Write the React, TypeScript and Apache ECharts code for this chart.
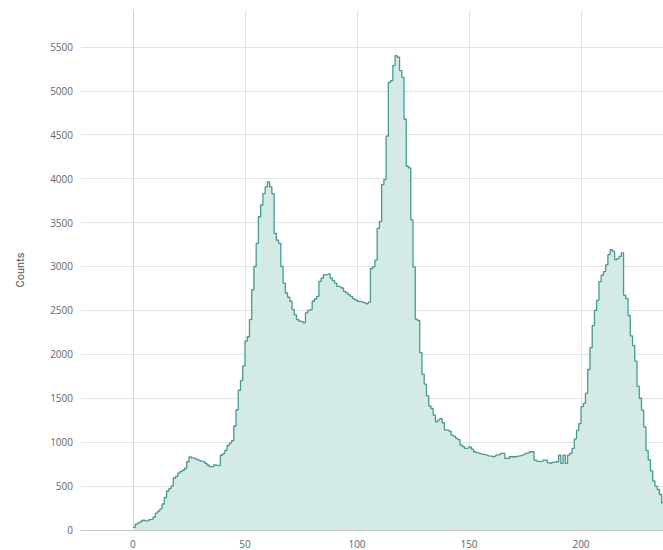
import React, { useEffect, useRef } from "react";
import * as echarts from "echarts";

// Histogram: one bin per intensity value (left edge), counts
const binStarts: number[] = Array.from({ length: 241 }, (_, i) => i);
const counts: number[] = [
  30, 67, 80, 92, 111, 105, 100, 118, 125, 148,
  192, 215, 240, 296, 370, 444, 470, 500, 592, 610,
  648, 666, 680, 703, 777, 833, 820, 814, 805, 796,
  785, 777, 760, 740, 722, 722, 740, 736, 733, 851,
  870, 907, 962, 990, 1018, 1184, 1369, 1591, 1700, 1868,
  2150, 2200, 2396, 2735, 3000, 3264, 3566, 3700, 3830, 3906,
  3962, 3906, 3830, 3377, 3300, 3264, 3000, 2811, 2698, 2650,
  2604, 2510, 2450, 2396, 2377, 2370, 2358, 2471, 2500, 2510,
  2604, 2630, 2660, 2830, 2868, 2905, 2910, 2917, 2868, 2840,
  2811, 2773, 2765, 2755, 2717, 2700, 2680, 2660, 2634, 2620,
  2604, 2600, 2595, 2585, 2576, 2595, 2977, 2996, 3072, 3435,
  3511, 3931, 3989, 4485, 5095, 5115, 5286, 5400, 5382, 5229,
  5153, 4676, 4141, 4122, 3530, 2996, 2400, 2385, 2020, 1775,
  1660, 1527, 1412, 1383, 1308, 1232, 1251, 1270, 1221, 1140,
  1137, 1126, 1080, 1068, 1042, 1030, 966, 950, 929, 935,
  947, 920, 891, 880, 872, 865, 860, 853, 845, 840,
  834, 840, 853, 860, 872, 872, 815, 815, 834, 834,
  834, 840, 845, 853, 860, 872, 880, 891, 891, 796,
  785, 777, 785, 796, 796, 765, 758, 770, 777, 777,
  853, 758, 853, 758, 853, 872, 929, 1038, 1135, 1211,
  1404, 1442, 1558, 1827, 2077, 2327, 2500, 2615, 2827, 2900,
  2942, 3019, 3134, 3192, 3173, 3077, 3090, 3115, 3154, 2673,
  2634, 2442, 2211, 2100, 1923, 1634, 1500, 1365, 1173, 904,
  800, 673, 558, 500, 461, 404, 308, 250, 200, 150,
  110,
];
const xTickValues: number[] = [0, 50, 100, 150, 200];
const yTickValues: number[] = [0, 500, 1000, 1500, 2000, 2500, 3000, 3500, 4000, 4500, 5000, 5500];
const yAxisTitle = "Counts";

export default function App() {
  const ref = useRef<HTMLDivElement>(null);
  useEffect(() => {
    if (!ref.current) return;
    const chart = echarts.init(ref.current, null, { renderer: "svg" });
    const data = binStarts.map((x, i) => [x, counts[i]]);
    chart.setOption({
      animation: false,
      grid: { left: 81, right: 0, top: 10, bottom: 20, containLabel: false },
      xAxis: {
        type: "value",
        min: -23.2,
        max: 236.6,
        axisLine: { show: true, lineStyle: { color: "#c8c8c8", width: 1 } },
        axisTick: { show: false, customValues: xTickValues },
        axisLabel: {
          customValues: xTickValues,
          formatter: (v: number) => String(v),
          color: "#666",
          fontSize: 10,
          fontFamily: "Open Sans",
          margin: 9,
        },
        splitLine: { show: true, lineStyle: { color: "#e3e3e3", width: 1 } },
      },
      yAxis: {
        type: "value",
        min: 0,
        max: 5920,
        name: yAxisTitle,
        nameLocation: "middle",
        nameGap: 55,
        nameTextStyle: { color: "#555", fontSize: 11, fontFamily: "Roboto" },
        axisLine: { show: true, lineStyle: { color: "#d5d5d5", width: 1 } },
        axisTick: { show: false, customValues: yTickValues },
        axisLabel: {
          customValues: yTickValues,
          formatter: (v: number) => String(v),
          color: "#666",
          fontSize: 10,
          fontFamily: "Open Sans",
          margin: 8,
        },
        splitLine: { show: true, lineStyle: { color: "#e3e3e3", width: 1 } },
      },
      series: [
        {
          type: "line",
          step: "end",
          data,
          showSymbol: false,
          lineStyle: { color: "#479a94", width: 1.3 },
          areaStyle: { color: "#d4eae7", opacity: 1 },
        },
      ],
    });
    return () => chart.dispose();
  }, []);
  return (
    <div
      ref={ref}
      style={{ position: "fixed", left: 0, top: 0, width: 663, height: 550, background: "#fff" }}
    />
  );
}
